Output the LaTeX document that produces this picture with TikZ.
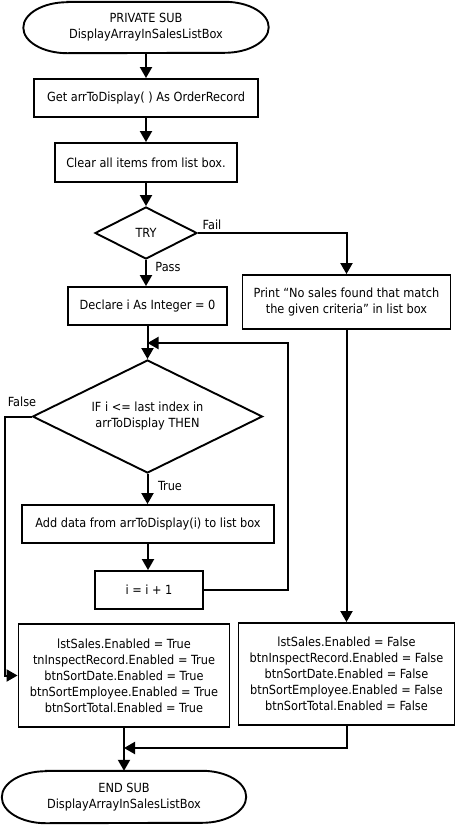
\documentclass[tikz,border=0pt]{standalone}
\usepackage{fontspec}
\setmainfont{DejaVu Sans Condensed}
\usetikzlibrary{shapes.geometric,arrows.meta}
\begin{document}
\begin{tikzpicture}[x=1pt,y=-1pt,
  every node/.style={font=\fontsize{12.6}{16}\selectfont, inner sep=0pt},
  stepbox/.style={draw, line width=1.9pt, rectangle, align=center},
  term/.style={rectangle, align=center},
  termline/.style={line width=1.9pt},
  decide/.style={draw, line width=1.9pt, diamond, aspect=2, align=center},
  conn/.style={line width=2pt, -{Triangle[width=12pt,length=11pt]}},
  lbl/.style={font=\fontsize{12.6}{14}\selectfont}]
\useasboundingbox (0,0) rectangle (455,825);

\node[term, minimum width=245pt, minimum height=51pt] (start) at (146,27.5) {PRIVATE SUB\\DisplayArrayInSalesListBox};
\node[stepbox, minimum width=224pt, minimum height=38pt] (get) at (146,98) {Get arrToDisplay( ) As OrderRecord};
\node[stepbox, minimum width=182pt, minimum height=39pt] (clear) at (146,162.5) {Clear all items from list box.};
\node[decide, minimum width=102pt, minimum height=52pt] (try) at (146,233) {TRY};
\node[stepbox, minimum width=159pt, minimum height=38pt] (decl) at (147.5,306) {Declare i As Integer = 0};
\node[stepbox, minimum width=208pt, minimum height=54pt] (print) at (346.5,302) {Print “No sales found that match\\the given criteria” in list box};
\node[decide, minimum width=230pt, minimum height=113pt] (if) at (147.5,416.5) {IF i <= last index in\\arrToDisplay THEN};
\node[stepbox, minimum width=252pt, minimum height=38pt] (add) at (148,524) {Add data from arrToDisplay(i) to list box};
\node[stepbox, minimum width=108pt, minimum height=38pt] (inc) at (149,590) {i = i + 1};
\node[stepbox, minimum width=211pt, minimum height=103pt] (tbox) at (124,675.5) {lstSales.Enabled = True\\tnInspectRecord.Enabled = True\\btnSortDate.Enabled = True\\btnSortEmployee.Enabled = True\\btnSortTotal.Enabled = True};
\node[stepbox, minimum width=216pt, minimum height=102pt] (fbox) at (346.5,674) {lstSales.Enabled = False\\btnInspectRecord.Enabled = False\\btnSortDate.Enabled = False\\btnSortEmployee.Enabled = False\\btnSortTotal.Enabled = False};
\node[term, minimum width=244pt, minimum height=52pt] (end) at (124,797) {END SUB\\DisplayArrayInSalesListBox};

% terminal outlines with elliptical ends
\draw[termline] ([xshift=44pt]start.north west) -- ([xshift=-44pt]start.north east)
  arc[start angle=90, end angle=-90, x radius=44pt, y radius=25.5pt]
  -- ([xshift=44pt]start.south west)
  arc[start angle=270, end angle=90, x radius=44pt, y radius=25.5pt] -- cycle;
\draw[termline] ([xshift=44pt]end.north west) -- ([xshift=-44pt]end.north east)
  arc[start angle=90, end angle=-90, x radius=44pt, y radius=26pt]
  -- ([xshift=44pt]end.south west)
  arc[start angle=270, end angle=90, x radius=44pt, y radius=26pt] -- cycle;

\coordinate (j) at (147.5,343);
\coordinate (loopc) at (288,343);
\coordinate (fl) at (5,416.5);
\coordinate (m) at (124,748);

\draw[conn] (start) -- (get);
\draw[conn] (get) -- (clear);
\draw[conn] (clear) -- (try);
\draw[conn] (try.south) -- (try.south |- decl.north);
\draw[conn] (try.east) -| (print.north);
\draw[conn] (decl) -- (if);
\draw[conn] (if.south) -- (if.south |- add.north);
\draw[conn] (add.south) -- (add.south |- inc.north);
\draw[conn] (inc.east) -| (loopc) -- (j);
\draw[conn] (if.west) -- (fl) |- (tbox.west);
\draw[conn] (print) -- (fbox);
\draw[conn] (tbox) -- (end);
\draw[conn] (fbox.south) |- (m);

\node[lbl] (lfail) at (212,225) {Fail};
\node[lbl] (lpass) at (168,267) {Pass};
\node[lbl] (lfalse) at (22,402) {False};
\node[lbl] (ltrue) at (170,486) {True};
\end{tikzpicture}
\end{document}
